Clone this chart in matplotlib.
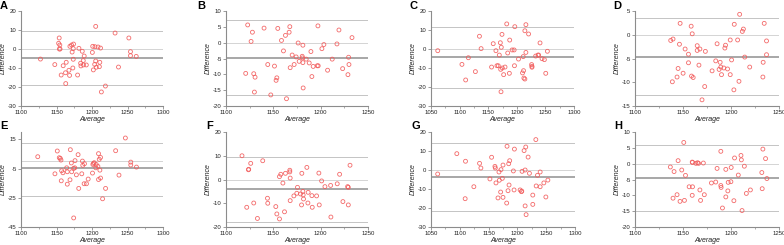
import matplotlib
matplotlib.use("Agg")
import matplotlib.pyplot as plt
import numpy as np

plt.rcParams['font.family'] = ['Liberation Sans', 'DejaVu Sans']
plt.rcParams['axes.unicode_minus'] = False

# ---------------- data ----------------
A_avg = [1127.4,1147.6,1153.8,1153,1154.7,1154,1155,1156.6,1159.4,1163,1163.7,1162.7,1167.5,1168.4,1168.9,1171.2,1172,1173,1173.6,1173.6,1174,1179.7,1181.6,1184,1184.4,1186.3,1187.7,1188,1189,1192,1200.5,1201,1201.9,1203.8,1204.2,1205.2,1205.2,1206,1208.5,1210.4,1211,1212,1213.2,1218.9,1232.5,1237.3,1251.9,1254.2,1254.2,1262.3]
A_diff = [-5.3,-8.2,5.8,3,2.1,0,0,-13.7,-8.8,-18.2,-7,-12.5,-11.2,-13.9,1.4,2.1,-1.6,-10,-5.4,0.2,2.6,-13.7,0.35,-7.5,-8.9,-1.2,-6.1,-8.4,-3.7,-8.4,-1.8,1.4,-11,-8.1,1.2,11.9,-6.3,-9.6,1.05,-9.3,-7,0.5,-22.6,-19.5,8.4,-9.5,5.8,-1.4,-3.5,-3.9]
A_lines = [9.6, -4.7, -18.8]

B_avg = [1120.8,1122.9,1126.5,1127.9,1129.3,1130,1130.7,1140.2,1144.1,1147.3,1151.2,1152.9,1153.7,1154.7,1158.6,1160.7,1162.8,1163.9,1166.7,1167.4,1167.8,1169.9,1172,1174.1,1176.2,1177.3,1180.5,1180.8,1181.2,1181.2,1181.5,1184.7,1187.9,1189.7,1190.7,1192.1,1196.4,1197.4,1197.1,1201.3,1203.4,1207.3,1212.2,1217.2,1219.3,1223.2,1228.8,1229.5,1229.9,1233.1]
B_diff = [-9.7,5.6,0.4,3.3,-9.8,-15.6,-10.9,4.6,-6.9,-16.5,-7.4,-11.9,-11.1,4.5,0.7,-2.6,2.3,-17.7,3.3,5.05,-7.9,-3.9,-6.9,-4.5,-0.1,-5.9,-4.3,-4.8,-0.8,-6.3,-14.3,-5.2,-6.4,-2.8,-10.7,-7.5,-7.3,-7.3,5.3,-1.9,-0.6,-8.7,-5.2,-0.4,4.0,-8.2,-10.1,-4.6,-6.9,1.6]
B_lines = [7.05, -4.7, -16.5]

C_avg = [1061.8,1104.1,1110.6,1115.3,1127.6,1134.7,1137.6,1155.9,1158.8,1163.5,1165.3,1167.6,1169.4,1171.2,1171.8,1172.4,1172.9,1174.7,1174.1,1177,1179.4,1182.4,1184.1,1187,1187.6,1191.8,1195.3,1196.5,1195.9,1203,1210,1211.2,1211.8,1212.4,1214.1,1214.1,1215.9,1215.9,1220.6,1225.9,1226.5,1226.5,1233,1237.1,1238.2,1240.6,1244.1,1248.2,1250.6,1253.5]
C_diff = [-0.9,-8.1,-16.3,-4.6,-11.9,6.7,0.2,-9.5,2.8,-0.9,-8.8,-8.8,-3.2,3.3,-10.7,-22.5,0.9,-10,7.7,-13.5,-9.5,13.2,-2.1,-12.8,4.7,-0.5,-0.5,11.75,-8.8,-5.3,-12.6,-4,-11.4,-15.3,-15.8,9.6,-1.8,12.8,7.9,-8.2,-9.6,-9.1,-3.7,-3.2,-3.2,3.2,-5.1,-5.6,-12.8,-1.2]
C_lines = [11.75, -4.2, -20.5]

D_avg = [1137.2,1139.6,1138.9,1143.8,1144.9,1146.3,1147,1150.1,1152.2,1155.7,1155.7,1158.5,1158.9,1159.6,1160.6,1164.8,1164.8,1166.6,1167.6,1169.8,1172.6,1173.3,1180.3,1184.1,1185.5,1187.6,1188.7,1189.4,1190.1,1192.5,1193.6,1194.3,1196.4,1199.2,1199.2,1200.6,1203.4,1203.0,1206.9,1208.3,1209,1211.8,1212.9,1214.3,1219.5,1233.2,1233.5,1234.6,1237,1237]
D_diff = [-1.2,-0.9,-9.9,-8.9,-7.1,-2,2.4,-8.1,-3,-4.1,-5.9,1.8,-8.7,0.2,-9,-2.3,-3.3,-6.4,-3,-13.7,-10.9,-3.5,-7.6,-5.5,-1.9,-7.3,-5.8,-6.8,-8.4,-7,-2.8,-2.2,-7.2,-8.4,-1.1,-5.3,2.2,-11.6,-1.1,-9.8,4.3,0.7,1.2,-4.7,-6.8,-8.9,-5.8,2.4,-1.3,-4.2]
D_lines = [3.6, -4.6, -12.7]

E_avg = [1123.6,1147.8,1151.1,1153.9,1155.3,1156.3,1157.2,1156.7,1159.1,1164.3,1165.2,1165.2,1169,1169.5,1170.9,1171.4,1174.2,1176.1,1174.2,1175.7,1178,1180.4,1181.3,1185.6,1186.5,1187,1188.9,1189.4,1192.2,1194.6,1200.7,1201.2,1202.1,1203.1,1205.4,1205.9,1208.3,1209.2,1210.2,1209.2,1211.1,1212,1212,1219.1,1214.9,1233.3,1238,1247,1254.6,1254.6,1262.6]
E_diff = [3.1,-8.6,7,2.4,1.96,0.8,-6.5,-13.4,-7.9,-4.5,-7.2,-15.7,-12.7,7.9,-1.2,-7.2,-4.9,0.4,-38.8,-4.5,-9.3,4.5,-18.6,-8.6,0.1,-2.8,-15.4,-1.7,-15.4,-12.2,-8.1,-2.2,-1.5,-1,-4.5,-2.2,-3.5,5.2,1.3,-12.5,-6.1,-11.5,2.6,-18.6,-25.7,7.2,-9.5,15.9,-0.6,-2.6,-4]
E_lines = [12.7, -4.8, -23.6]

F_avg = [1116.9,1121.9,1124,1123.7,1126.1,1129.3,1133.2,1138.8,1143.8,1144.1,1152.6,1153.7,1156.5,1156.5,1157.9,1160.1,1161.8,1162.8,1167.4,1167.4,1167.8,1167.8,1171.7,1175.5,1174.8,1178.7,1179.8,1180.1,1181.2,1181.5,1181.9,1185.4,1186.5,1186.8,1190.7,1191.1,1195.7,1198.1,1198.5,1201,1204.5,1210.5,1210.8,1217.5,1220,1223.5,1228.5,1229.2,1229.2,1231]
F_diff = [10,-11.7,4.3,4.1,6.8,-9.9,-16.4,7.9,-7.9,-10,-11.4,-14.5,-16.6,1.2,2.2,-1.5,-13.6,2.6,3.9,3.2,0.6,-8.9,-6.9,-3.3,-5.8,-6.1,-10.7,2.6,-5,-6.5,-8.2,5.1,-9.9,-5.4,-6.8,-11.7,-6.9,2.7,-10.7,-0.6,-3,-2.5,-15.8,-1.8,2.2,-9.3,-3,-3.3,-10.7,6]
F_lines = [9.5, -4.2, -17.9]

G_avg = [1061.6,1094.8,1109.9,1109.3,1124.4,1134.3,1136.6,1152.3,1155.2,1161,1161.6,1162.8,1166.3,1168,1168.6,1170.9,1171.5,1173.8,1175,1175,1181.4,1182,1183.7,1184.9,1185.5,1186.6,1193,1194.2,1194.8,1204.7,1207,1207.6,1208.1,1211.6,1213.4,1213.4,1214.5,1215.1,1218.6,1220.9,1226.7,1226.7,1232,1232.6,1234.9,1239.5,1239.5,1245.9,1249.4,1252.9]
G_diff = [-2.1,8.6,4.6,-15.1,-8.8,3.5,1.05,-4.7,6.7,1.9,1.05,-6.8,-14.7,-1.05,-5.4,-11.6,0.2,-4.4,-14.4,2.6,-17.4,12.5,-10.9,3.3,-7.9,4.9,-0.5,-10.5,11,-10.5,-11.4,-11.1,-0.7,10.2,0,-18.9,12.1,-23.5,6.8,-1.75,-18.1,-13.2,16,-8.4,-2.8,-8.8,-1.05,-6.8,-14.2,-5.3]
G_lines = [14.2, -3.9, -21.8]

H_avg = [1136.8,1140.7,1139.6,1143.8,1144.9,1146.9,1148.7,1150.8,1151.5,1152.6,1156.4,1159.6,1159.9,1159.9,1159.6,1163.4,1165.2,1166.2,1167.6,1168.3,1171.2,1172.2,1179.6,1184.1,1185.5,1189.4,1189.7,1189.4,1191.1,1194.6,1194.6,1196.7,1197.1,1199.9,1200.2,1203,1203.7,1207.6,1210.4,1210.8,1211.5,1213.9,1216,1220.2,1232.1,1232.5,1233.2,1236,1237.4]
H_diff = [-1.05,-2.5,-10.9,-9.8,0.95,-11.9,-2,6.7,-11.6,-3.7,-7.3,0.5,0.4,-7.3,-10,0.1,0.3,0.1,-8.3,-11.6,0.2,-9.8,-6.1,-5.8,-1.5,-6.9,-7.5,3.9,-14,-1.8,-10.5,-8.6,-5.9,-5.7,-1.2,-11.7,1.8,-3.6,2.6,1.2,-14.8,-0.8,-9.4,-8.3,-2.8,-7.9,4.6,1.6,-4.7]
H_lines = [5.9, -4.5, -14.8]

panel_labels = ["A", "B", "C", "D", "E", "F", "G", "H"]
x_label = "Average"
y_label = "Difference"

A_xticks = [1100, 1150, 1200, 1250, 1300]
B_xticks = [1100, 1150, 1200, 1250]
C_xticks = [1050, 1100, 1150, 1200, 1250, 1300]
D_xticks = [1100, 1150, 1200, 1250]
E_xticks = [1100, 1150, 1200, 1250, 1300]
F_xticks = [1100, 1150, 1200, 1250]
G_xticks = [1050, 1100, 1150, 1200, 1250, 1300]
H_xticks = [1100, 1150, 1200, 1250]

A_yticks = [-30, -20, -10, 0, 10, 20]
B_yticks = [-20, -15, -10, -5, 0, 5, 10]
C_yticks = [-30, -20, -10, 0, 10, 20]
D_yticks = [-15, -10, -5, 0, 5]
E_yticks = [-45, -25, -5, 15]
F_yticks = [-20, -10, 0, 10, 20]
G_yticks = [-30, -20, -10, 0, 10, 20]
H_yticks = [-20, -15, -10, -5, 0, 5, 10]

# ---------------- layout ----------------
W, H = 784, 245
fig = plt.figure(figsize=(W / 100, H / 100), dpi=100)

# pixel boxes: left, top, right, bottom
boxes = [
    (21, 11, 163, 106), (226, 11, 368, 106), (431, 11, 574, 106), (635, 11, 779, 106),
    (21, 132, 163, 227), (226, 132, 368, 227), (431, 132, 575, 227), (635, 132, 779, 227),
]
ylims = [(-30, 20), (-20, 10), (-30, 20), (-15, 5), (-45, 20), (-20, 20), (-30, 20), (-20, 10)]
label_pos = [(0, 1), (197, 1), (410, 1), (613, 1), (0, 121), (206, 121), (411, 121), (614, 121)]

panels = [
    (A_avg, A_diff, A_lines, A_xticks, A_yticks),
    (B_avg, B_diff, B_lines, B_xticks, B_yticks),
    (C_avg, C_diff, C_lines, C_xticks, C_yticks),
    (D_avg, D_diff, D_lines, D_xticks, D_yticks),
    (E_avg, E_diff, E_lines, E_xticks, E_yticks),
    (F_avg, F_diff, F_lines, F_xticks, F_yticks),
    (G_avg, G_diff, G_lines, G_xticks, G_yticks),
    (H_avg, H_diff, H_lines, H_xticks, H_yticks),
]

spine_c = "#8c8c8c"
for i, (avg, diff, lines, xt, yt) in enumerate(panels):
    l, t, r, b = boxes[i]
    ax = fig.add_axes([l / W, 1 - b / H, (r - l) / W, (b - t) / H])
    ax.set_xlim(xt[0], xt[-1])
    ax.set_ylim(*ylims[i])
    for s in ["top", "right"]:
        ax.spines[s].set_visible(False)
    for s in ["left", "bottom"]:
        ax.spines[s].set_color(spine_c)
        ax.spines[s].set_linewidth(0.8)
    # reference lines
    ax.axhline(0, color="#d4d4d4", lw=0.7, zorder=1)
    ax.axhline(lines[0], color="#c4c4c4", lw=0.7, zorder=1)
    ax.axhline(lines[1], color="#a0a0a0", lw=1.3, zorder=1)
    ax.axhline(lines[2], color="#c4c4c4", lw=0.7, zorder=1)
    ax.scatter(avg, diff, s=8, facecolors="none", edgecolors="#f25a5a",
               linewidths=0.6, alpha=0.9, zorder=3)
    ax.set_xticks(xt)
    ax.set_xticks([(xt[k] + xt[k + 1]) / 2 for k in range(len(xt) - 1)], minor=True)
    ax.set_yticks(yt)
    ax.set_yticklabels([str(v) for v in yt])
    ax.tick_params(axis="both", which="major", labelsize=4.3, length=2, width=0.6,
                   color=spine_c, pad=1.2, labelcolor="#222222")
    ax.tick_params(axis="x", which="minor", length=1.2, width=0.5, color=spine_c)
    ax.set_xlabel(x_label, fontsize=5, style="italic", labelpad=0.5, color="#222222")
    ax.set_ylabel(y_label, fontsize=5, style="italic", labelpad=0.5, color="#222222")
    lx, ly = label_pos[i]
    fig.text(lx / W, 1 - ly / H, panel_labels[i], fontsize=8, fontweight="bold",
             ha="left", va="top")

fig.savefig("out.png", dpi=100)
